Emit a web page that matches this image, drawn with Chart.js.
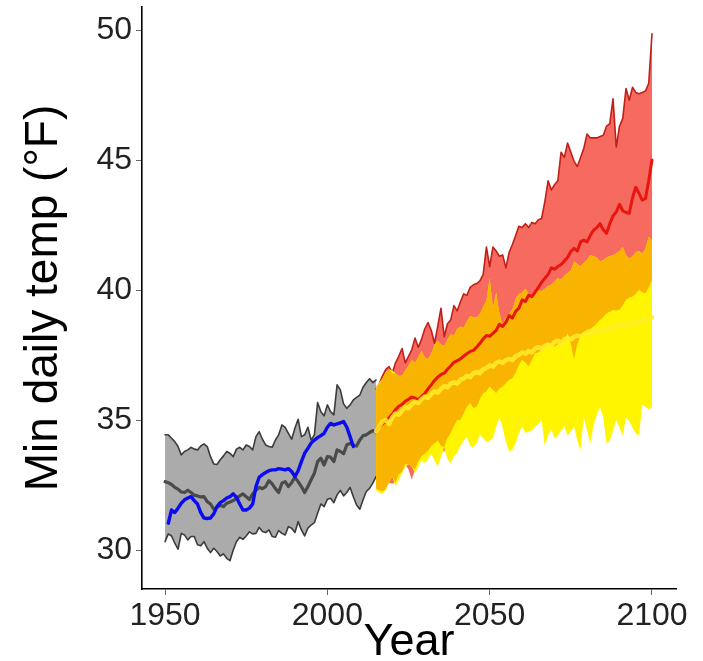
<!DOCTYPE html>
<html><head><meta charset="utf-8">
<script src="https://cdn.jsdelivr.net/npm/chart.js@4.4.1/dist/chart.umd.min.js"></script>
<style>html,body{margin:0;padding:0;background:#fff;}</style>
</head><body>
<canvas id="c" width="703" height="661"></canvas>
<script>
// ---------- data ----------
const histStart = 1950;   // gray model band + model mean
const obsStart = 1951;    // observed (blue)
const futStart = 2015;    // projections
const xTicks = [1950, 2000, 2050, 2100];
const yTicks = [30, 35, 40, 45, 50];

const histUpper = [34.43,34.43,34.30,34.17,33.98,33.66,33.79,33.85,33.95,33.88,
 33.85,34.00,34.08,33.98,33.59,33.31,33.29,33.47,33.62,33.79,
 33.72,33.59,33.88,33.95,33.85,34.04,33.98,33.85,34.36,34.55,
 34.26,34.04,33.98,33.95,34.23,34.43,34.81,34.72,34.49,34.26,
 34.68,35.03,34.36,34.43,34.72,34.23,34.43,35.67,35.32,35.16,
 35.58,35.32,35.20,36.35,36.16,35.62,35.45,35.58,35.77,35.87,
 35.96,36.26,36.44,36.59,36.44,36.54];
const histLower = [30.32,30.62,30.54,30.26,30.03,30.64,30.58,30.39,30.52,30.52,
 30.20,30.16,30.32,30.07,29.90,30.07,29.94,29.77,29.85,29.68,
 29.59,30.00,30.32,30.49,30.41,30.54,30.70,30.62,30.64,30.87,
 30.71,30.67,30.77,30.52,30.49,30.75,30.64,30.58,30.90,30.84,
 30.67,31.09,30.77,30.54,30.84,30.96,31.05,31.41,31.77,31.67,
 31.95,31.99,31.82,32.12,32.29,32.08,32.21,32.41,32.05,31.73,
 31.57,31.93,32.25,32.37,32.57,32.82];
const histMean = [32.63,32.59,32.52,32.41,32.34,32.23,32.21,32.30,32.21,32.11,
 32.08,32.04,32.05,31.86,31.77,31.57,31.64,31.72,31.67,31.80,
 31.85,31.90,31.98,32.08,32.16,32.05,31.94,32.16,32.29,32.41,
 32.36,32.44,32.67,32.54,32.36,32.21,32.57,32.63,32.44,32.59,
 32.80,32.63,32.44,32.21,32.44,32.70,32.95,33.40,33.53,33.27,
 33.59,33.57,33.40,33.85,33.79,33.70,34.05,34.10,34.04,34.00,
 34.23,34.40,34.43,34.52,34.59,34.52];
const observed = [31.03,31.54,31.44,31.61,31.80,31.93,32.00,32.05,31.90,31.77,
 31.44,31.23,31.21,31.23,31.39,31.67,31.82,31.90,32.00,32.05,
 32.16,32.03,31.77,31.54,31.54,31.61,31.77,32.44,32.80,32.90,
 32.98,33.05,33.08,33.08,33.13,33.11,33.08,33.13,33.02,32.82,
 33.05,33.40,33.72,33.91,34.11,34.23,34.32,34.40,34.49,34.72,
 34.87,34.81,34.85,34.89,34.94,34.72,34.36,33.98];

const highUpper = [36.20,36.40,36.70,36.95,37.05,36.80,37.20,37.45,37.75,37.20,
 37.45,37.70,38.15,37.80,38.10,38.50,38.75,38.45,37.95,38.60,
 39.30,38.20,38.70,38.85,39.40,39.20,39.55,39.85,39.80,40.10,
 40.20,40.25,40.35,40.60,41.65,40.90,41.65,41.50,41.30,41.35,
 40.85,41.45,41.75,42.10,42.45,42.40,42.55,42.40,42.60,42.55,
 42.70,42.75,43.40,44.20,43.85,44.05,44.20,45.30,45.10,45.65,
 45.30,44.95,44.75,45.10,45.45,46.00,45.85,45.85,45.85,45.90,
 45.95,46.30,46.40,47.35,45.50,46.30,46.60,47.75,47.30,47.80,
 47.60,47.55,47.60,47.65,47.95,49.85];
const highLower = [32.35,32.30,32.25,32.35,32.60,32.55,32.60,32.90,33.00,33.30,
 33.10,32.70,33.10,33.40,33.60,33.70,33.80,34.00,34.10,34.20,
 34.00,33.75,34.30,34.50,34.75,35.00,35.00,35.26,35.50,35.64,
 35.45,35.51,35.80,36.03,36.10,36.28,36.15,36.03,36.20,36.28,
 36.40,36.54,36.60,36.80,37.10,37.31,37.20,37.05,37.30,37.56,
 37.60,37.69,37.80,37.95,37.90,37.82,37.90,37.95,38.10,38.33,
 37.90,37.31,37.90,38.20,38.35,38.46,38.50,38.59,38.70,38.85,
 38.95,39.10,39.15,39.23,39.20,39.23,39.40,39.62,39.70,39.74,
 39.85,40.00,39.90,39.87,40.10,40.38];
const highMean = [34.60,34.72,34.85,34.95,35.08,35.22,35.40,35.53,35.60,35.72,
 35.80,35.88,35.85,35.77,35.90,36.02,36.20,36.35,36.52,36.65,
 36.75,36.80,36.95,37.08,37.22,37.28,37.35,37.46,37.55,37.64,
 37.68,37.80,37.95,38.12,38.25,38.22,38.33,38.45,38.68,38.60,
 38.76,39.02,38.92,39.18,39.30,39.62,39.56,39.80,39.74,39.92,
 40.10,40.30,40.45,40.60,40.85,40.80,40.90,40.98,41.12,41.25,
 41.48,41.60,41.50,41.85,41.92,41.85,42.10,42.30,42.40,42.55,
 42.32,42.18,42.55,42.85,43.00,43.30,43.05,42.98,42.95,43.55,
 43.95,43.72,43.46,43.52,44.20,45.00];
const lowUpper = [36.25,36.45,36.60,36.85,36.95,36.90,36.80,36.70,36.70,36.90,
 37.10,37.30,37.20,37.40,37.65,37.40,37.35,37.55,37.90,38.05,
 37.90,37.85,38.10,38.30,38.25,38.50,38.60,38.55,38.80,39.00,
 38.95,38.95,39.10,39.35,39.60,40.45,39.30,39.90,39.10,38.65,
 38.95,39.10,39.25,39.65,39.85,39.90,40.05,39.85,39.65,39.95,
 40.00,39.95,40.05,40.15,40.20,40.35,40.45,40.40,40.55,40.65,
 40.75,41.10,41.00,40.90,41.05,41.15,41.35,41.30,41.25,41.10,
 41.15,41.25,41.30,41.35,41.40,41.50,41.65,41.35,41.20,41.30,
 41.45,41.50,41.40,41.60,42.05,41.90];
const lowLower = [32.30,32.20,32.15,32.30,32.60,32.80,32.45,32.70,32.95,33.20,
 33.30,33.20,32.95,33.20,33.45,33.35,33.50,33.70,33.45,33.20,
 33.60,33.95,33.50,33.35,33.60,33.75,34.00,34.20,34.35,34.00,
 33.95,34.10,34.45,34.30,34.15,34.20,34.30,34.75,35.10,34.70,
 34.15,33.80,33.85,34.10,34.50,34.75,34.50,34.55,34.60,34.75,
 34.85,35.00,34.00,34.40,34.65,34.30,34.40,34.60,34.75,34.40,
 34.55,34.75,34.20,33.85,35.10,34.60,34.10,34.80,35.20,35.50,
 35.10,34.10,34.20,34.60,35.00,34.70,34.40,35.10,34.95,34.70,
 34.50,34.40,35.60,35.50,35.40,35.50];
const lowMean = [34.55,34.75,34.95,35.00,34.85,35.10,35.25,35.20,35.35,35.50,
 35.45,35.60,35.70,35.65,35.80,35.90,35.85,36.00,36.10,36.05,
 36.20,36.30,36.25,36.40,36.45,36.40,36.55,36.60,36.70,36.65,
 36.80,36.85,36.80,36.95,37.00,37.10,37.05,37.20,37.25,37.20,
 37.30,37.35,37.30,37.45,37.50,37.60,37.55,37.65,37.60,37.75,
 37.80,37.75,37.85,37.90,37.85,38.00,38.05,37.95,38.10,38.15,
 38.10,38.20,38.25,38.20,38.30,38.35,38.30,38.40,38.45,38.40,
 38.50,38.45,38.55,38.60,38.55,38.65,38.70,38.60,38.70,38.75,
 38.70,38.80,38.85,38.80,38.90,38.95];

// ---------- helpers ----------
function pts(start, vals) { return vals.map((v, i) => ({x: start + i, y: v})); }
const overlapTop = highUpper.map((v, i) => Math.min(v, lowUpper[i]));
const overlapBot = highLower.map((v, i) => Math.max(v, lowLower[i]));

const NONE = 'rgba(0,0,0,0)';
function band(label, start, vals, opts) {
  return Object.assign({label, data: pts(start, vals), pointRadius: 0, tension: 0,
    borderWidth: 0, borderColor: NONE, fill: false}, opts);
}

const FONT = "'Liberation Sans', Arial, sans-serif";

new Chart(document.getElementById('c'), {
  type: 'line',
  data: {
    datasets: [
      band('hist upper', histStart, histUpper, {order: 20, fill: '+1', backgroundColor: '#ABABAB', borderColor: '#3c3c3c', borderWidth: 1.6}),
      band('hist lower', histStart, histLower, {order: 19, borderColor: '#3c3c3c', borderWidth: 1.6}),
      band('high upper', futStart, highUpper, {order: 18, fill: '+1', backgroundColor: '#F76A5F', borderColor: '#C0201A', borderWidth: 1.6}),
      band('high lower', futStart, highLower, {order: 17}),
      band('low upper', futStart, lowUpper, {order: 16, fill: '+1', backgroundColor: '#FFF500'}),
      band('low lower', futStart, lowLower, {order: 15}),
      band('overlap top', futStart, overlapTop, {order: 14, fill: {target: '+1', above: '#F8B400', below: NONE}}),
      band('overlap bottom', futStart, overlapBot, {order: 13}),
      band('hist mean', histStart, histMean, {order: 12, borderColor: '#4a4a4a', borderWidth: 3.2}),
      band('high mean', futStart, highMean, {order: 11, borderColor: '#E8160E', borderWidth: 3}),
      band('low mean', futStart, lowMean, {order: 10, borderColor: 'rgba(255,236,40,0.85)', borderWidth: 4.5}),
      band('observed', obsStart, observed, {order: 9, borderColor: '#0B0BF2', borderWidth: 3.4})
    ]
  },
  options: {
    responsive: false,
    animation: false,
    devicePixelRatio: 1,
    layout: {padding: {left: 0, top: 7, right: 27, bottom: 0}},
    plugins: {legend: {display: false}, tooltip: {enabled: false}},
    elements: {line: {borderCapStyle: 'round', borderJoinStyle: 'round'}},
    scales: {
      x: {
        type: 'linear', min: 1942.9, max: 2107.4,
        afterFit: s => { s.height = 72; s.paddingLeft = 0; s.paddingRight = 0; },
        afterBuildTicks: s => { s.ticks = xTicks.map(v => ({value: v})); },
        grid: {display: true, drawOnChartArea: false, drawTicks: true, tickLength: 6, color: '#666', lineWidth: 1},
        border: {display: true, color: '#000', width: 1.6},
        ticks: {autoSkip: false, maxRotation: 0, padding: 2, color: '#222', font: {family: FONT, size: 32}, callback: v => String(v)},
        title: {display: true, text: 'Year', color: '#000', font: {family: FONT, size: 45, lineHeight: 1}, padding: {top: 0, bottom: -4}}
      },
      y: {
        type: 'linear', min: 28.5, max: 50.885,
        afterFit: s => { s.width = 142; s.paddingTop = 0; s.paddingBottom = 0; },
        afterBuildTicks: s => { s.ticks = yTicks.map(v => ({value: v})); },
        grid: {display: true, drawOnChartArea: false, drawTicks: true, tickLength: 6, color: '#666', lineWidth: 1},
        border: {display: true, color: '#000', width: 1.6},
        ticks: {padding: 4, color: '#222', font: {family: FONT, size: 32}, callback: v => String(v)},
        title: {display: true, text: 'Min daily temp (°F)', color: '#000', font: {family: FONT, size: 46, lineHeight: 1}, padding: {top: 21, bottom: 0}}
      }
    }
  }
});
</script>
</body></html>
